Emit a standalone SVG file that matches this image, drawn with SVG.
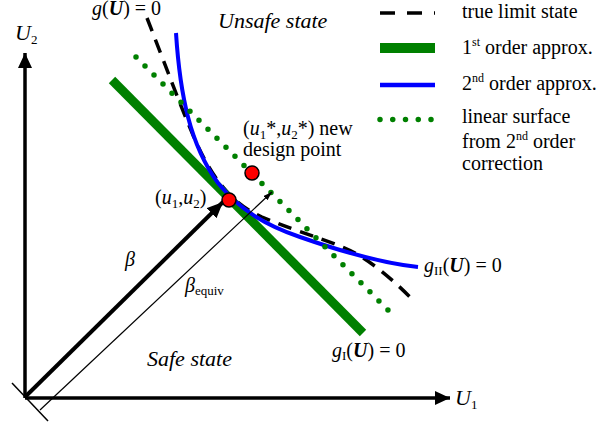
<svg xmlns="http://www.w3.org/2000/svg" width="608" height="423" viewBox="0 0 608 423">
<defs>
<style>
.t{font-family:"Liberation Serif","Times New Roman",serif;font-size:20px;fill:#000}
.it{font-style:italic}
.bi{font-style:italic;font-weight:bold}
.big{font-size:22px}
.sub{font-size:13px}
.sup{font-size:12px}
.dash{fill:none;stroke:#000;stroke-width:3.5;stroke-dasharray:14 9}
.blue{fill:none;stroke:#0000ff;stroke-width:4}
.green{fill:none;stroke:#008000;stroke-width:9}
.dots{fill:none;stroke:#008000;stroke-width:5.5;stroke-linecap:round;stroke-dasharray:0 12.75}
.pt{fill:#ff0000;stroke:#000;stroke-width:1.5}
</style>
<marker id="axh" markerUnits="userSpaceOnUse" markerWidth="16" markerHeight="16" refX="15" refY="7" orient="auto">
<path d="M0,0 L15,7 L0,14 z" fill="#000"/>
</marker>
<marker id="bh" markerUnits="userSpaceOnUse" markerWidth="18" markerHeight="16" refX="16" refY="7" orient="auto">
<path d="M0,0 L16,7 L0,14 z" fill="#000"/>
</marker>
<marker id="th" markerUnits="userSpaceOnUse" markerWidth="10" markerHeight="8" refX="9" refY="3" orient="auto">
<path d="M0,0 L9,3 L0,6 z" fill="#000"/>
</marker>
</defs>
<rect width="608" height="423" fill="#fff"/>

<g id="axes">
<line x1="25" y1="398" x2="25" y2="53" stroke="#000" stroke-width="3.5" marker-end="url(#axh)"/>
<line x1="25" y1="398" x2="450" y2="398" stroke="#000" stroke-width="3.5" marker-end="url(#axh)"/>
<line x1="12" y1="383" x2="48" y2="421" stroke="#000" stroke-width="1.5"/>
<text class="t it big" x="15" y="40">U<tspan class="sub" font-style="normal" dy="4">2</tspan></text>
<text class="t it big" x="455" y="405">U<tspan class="sub" font-style="normal" dy="4">1</tspan></text>
</g>

<g id="connectors">
<path id="true-limit" class="dash" d="M147,18 C165,64 178,100 193,135 C210,175 230,203 262,217 C300,233 335,242 355,253 C378,266 398,285 413,300"/>
<line id="first-order" class="green" x1="112" y1="80" x2="363" y2="333"/>
<path id="second-order" class="blue" d="M176,33 C180,95 190,145 218,183 C240,210 265,225 300,237 C340,251 380,263 418,267"/>
<line id="linear-surface" class="dots" x1="136" y1="57" x2="388" y2="310"/>
<line id="beta" x1="25" y1="397" x2="223" y2="202" stroke="#000" stroke-width="4" marker-end="url(#bh)"/>
<line id="beta-equiv" x1="40" y1="410" x2="272" y2="192" stroke="#000" stroke-width="1.2" marker-end="url(#th)"/>
</g>

<g id="design-point">
<circle class="pt" cx="229" cy="200" r="7"/>
<text class="t" x="155" y="204">(<tspan class="it">u</tspan><tspan class="sub" dy="4">1</tspan><tspan dy="-4">,</tspan><tspan class="it">u</tspan><tspan class="sub" dy="4">2</tspan><tspan dy="-4">)</tspan></text>
</g>

<g id="new-design-point">
<circle class="pt" cx="252" cy="173" r="7"/>
<text class="t" x="243" y="135">(<tspan class="it">u</tspan><tspan class="sub" dy="4">1</tspan><tspan dy="-4">*,</tspan><tspan class="it">u</tspan><tspan class="sub" dy="4">2</tspan><tspan dy="-4">*) new</tspan></text>
<text class="t" x="243" y="156">design point</text>
</g>

<g id="labels">
<text class="t it big" x="218" y="28">Unsafe state</text>
<text class="t it big" x="147" y="366">Safe state</text>
<text class="t" x="92" y="15"><tspan class="it">g</tspan>(<tspan class="bi">U</tspan>) = 0</text>
<text class="t" x="332" y="357"><tspan class="it">g</tspan><tspan class="sub" dy="3">I</tspan><tspan dy="-3">(</tspan><tspan class="bi">U</tspan>) = 0</text>
<text class="t" x="424" y="272"><tspan class="it">g</tspan><tspan class="sub" dy="3">II</tspan><tspan dy="-3">(</tspan><tspan class="bi">U</tspan>) = 0</text>
<text class="t it" x="125" y="266">β</text>
<text class="t" x="185" y="292"><tspan class="it">β</tspan><tspan class="sub" dy="3">equiv</tspan></text>
</g>

<g id="legend">
<line x1="380" y1="13" x2="435" y2="13" stroke="#000" stroke-width="3.5" stroke-dasharray="15 12"/>
<text class="t" x="462" y="18">true limit state</text>
<line x1="380" y1="48" x2="435" y2="48" stroke="#008000" stroke-width="10"/>
<text class="t" x="462" y="54">1<tspan class="sup" dy="-8">st</tspan><tspan dy="8"> order approx.</tspan></text>
<line x1="380" y1="85" x2="435" y2="85" stroke="#0000ff" stroke-width="4.5"/>
<text class="t" x="462" y="90">2<tspan class="sup" dy="-8">nd</tspan><tspan dy="8"> order approx.</tspan></text>
<line class="dots" x1="380" y1="119.5" x2="432" y2="119.5"/>
<text class="t" x="462" y="123">linear surface</text>
<text class="t" x="462" y="148">from 2<tspan class="sup" dy="-8">nd</tspan><tspan dy="8"> order</tspan></text>
<text class="t" x="462" y="170">correction</text>
</g>
</svg>
